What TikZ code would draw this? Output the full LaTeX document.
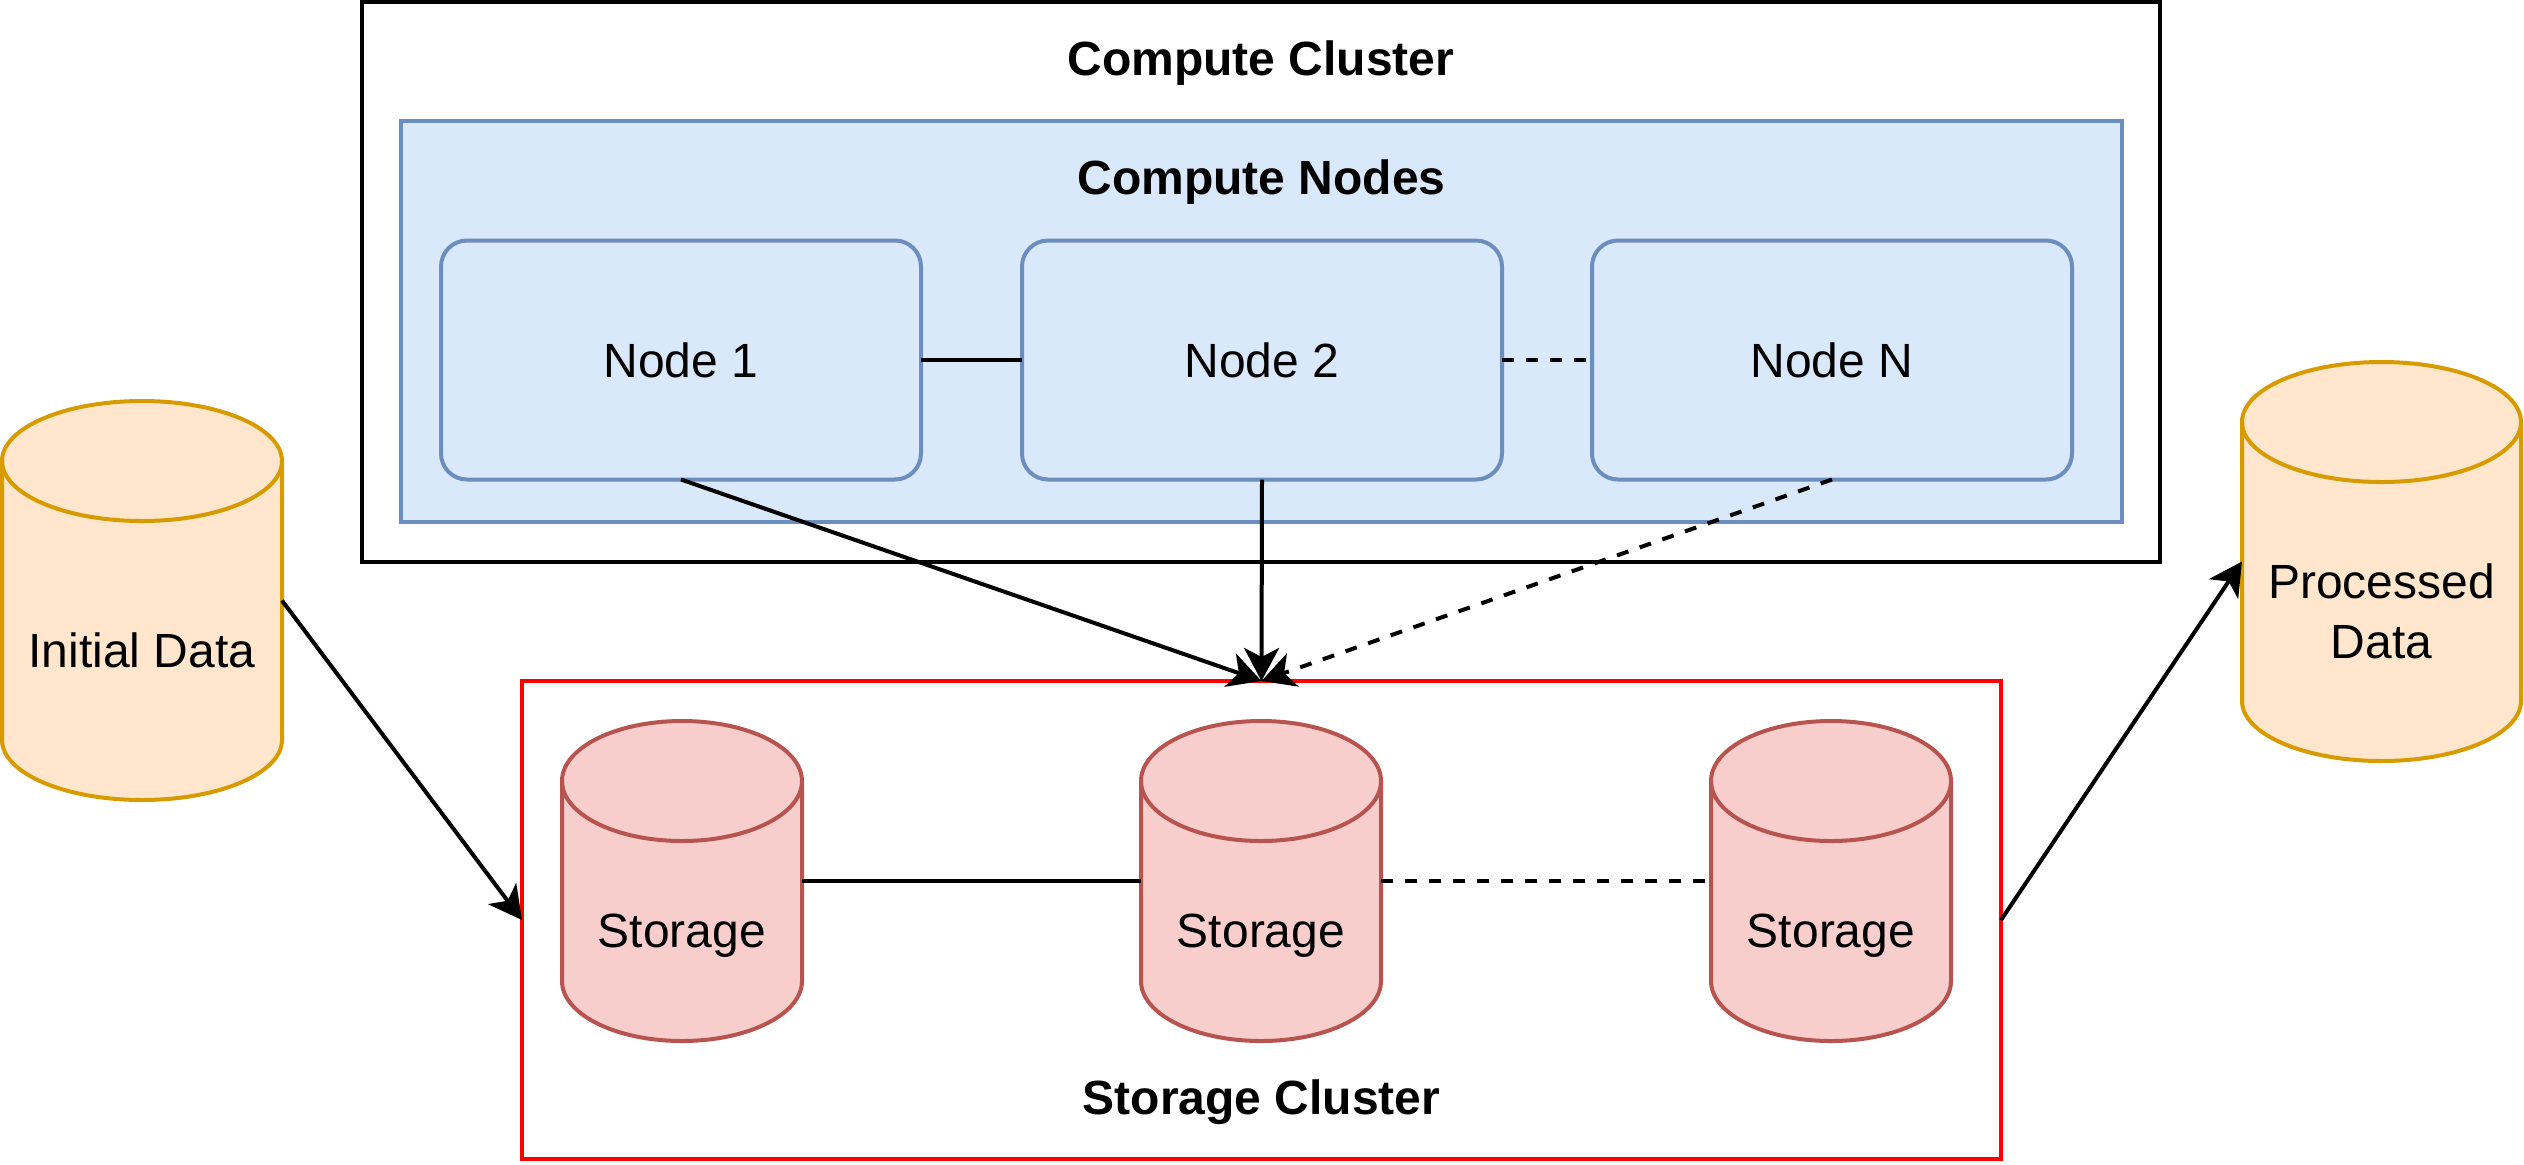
\documentclass[tikz,border=0pt]{standalone}
\usepackage{fontspec}
\setmainfont{Liberation Sans}
\usetikzlibrary{arrows.meta,calc,backgrounds}
\definecolor{NodeFill}{HTML}{DAE8FC}
\definecolor{NodeLine}{HTML}{6C8EBF}
\definecolor{StoreFill}{HTML}{F8CECC}
\definecolor{StoreLine}{HTML}{B85450}
\definecolor{DataFill}{HTML}{FFE6CC}
\definecolor{DataLine}{HTML}{D79B00}
\definecolor{ClusterRed}{HTML}{FF0000}
% cylinder outline behind a named db node: #1 node, #2 half width, #3 colours
\newcommand{\dbshape}[3]{%
  \begin{scope}[on background layer]
    \path[line width=2pt, #3] ($(#1.north west)+(0,-30pt)$) -- ($(#1.south west)+(0,30pt)$)
      arc[start angle=180, end angle=360, x radius=#2, y radius=30pt]
      -- ($(#1.north east)+(0,-30pt)$)
      arc[start angle=0, end angle=180, x radius=#2, y radius=30pt] -- cycle;
    \draw[line width=2pt, #3, fill=none] ($(#1.north west)+(0,-30pt)$)
      arc[start angle=180, end angle=360, x radius=#2, y radius=30pt];
  \end{scope}}

\begin{document}
\begin{tikzpicture}[x=1pt, y=1pt, font=\fontsize{24pt}{30pt}\selectfont,
    cluster/.style={draw, line width=2pt, inner sep=0pt, outer sep=0pt},
    title/.style={font=\fontsize{24pt}{30pt}\selectfont\bfseries},
    worker/.style={draw=NodeLine, fill=NodeFill, line width=2pt, rounded corners=13pt,
      minimum width=240pt, minimum height=119.5pt, outer sep=0pt},
    db/.style={inner sep=0pt, outer sep=0pt},
    dbtext/.style={yshift=-25pt, align=center},
    storetext/.style={yshift=-27.5pt},
    link/.style={line width=2pt},
    dashlink/.style={line width=2pt, dash pattern=on 6pt off 6pt},
    arrow/.style={line width=2pt, -{Stealth[length=16.5pt, width=17.5pt, inset=4.5pt]}}]
    \useasboundingbox (0,0) rectangle (1262,-582);

    % compute side
    \node[cluster, minimum width=899pt, minimum height=280pt] (cc) at (630.5,-141) {};
    \node[title] (cctitle) at (630.5,-31.5) {Compute Cluster};
    \node[cluster, draw=NodeLine, fill=NodeFill, minimum width=860.5pt, minimum height=200.5pt] (pool) at (630.75,-160.75) {};
    \node[title] (pooltitle) at (630.75,-91) {Compute Nodes};

    \node[worker] (n1) at (340.5,-180) {Node 1};
    \node[worker] (n2) at (631,-180) {Node 2};
    \node[worker] (nN) at (916,-180) {Node N};

    % storage side
    \node[cluster, draw=ClusterRed, minimum width=739.5pt, minimum height=239pt] (store) at (630.75,-460) {};
    \node[title] (storetitle) at (630.75,-551) {Storage Cluster};

    \node[db, minimum width=120pt, minimum height=160pt, label={[storetext]center:Storage}] (st1) at (341,-440.5) {};
    \node[db, minimum width=120pt, minimum height=160pt, label={[storetext]center:Storage}] (st2) at (630.5,-440.5) {};
    \node[db, minimum width=120pt, minimum height=160pt, label={[storetext]center:Storage}] (st3) at (915.5,-440.5) {};
    \dbshape{st1}{60pt}{fill=StoreFill, draw=StoreLine}
    \dbshape{st2}{60pt}{fill=StoreFill, draw=StoreLine}
    \dbshape{st3}{60pt}{fill=StoreFill, draw=StoreLine}

    % data in and out
    \node[db, minimum width=140pt, minimum height=199.5pt, label={[dbtext]center:Initial Data}] (init) at (71,-300.25) {};
    \node[db, minimum width=139.5pt, minimum height=199.5pt, label={[dbtext]center:Processed\\Data}] (proc) at (1190.75,-280.75) {};
    \dbshape{init}{70pt}{fill=DataFill, draw=DataLine}
    \dbshape{proc}{69.75pt}{fill=DataFill, draw=DataLine}

    \draw[link] (n1.east) -- (n2.west);
    \draw[dashlink] (n2.east) -- (nN.west);
    \draw[link] (st1.east) -- (st2.west);
    \draw[dashlink] (st2.east) -- (st3.west);

    \draw[arrow] (n1.south) -- (store.north);
    \draw[arrow] (n2.south) -- (store.north);
    \draw[arrow, dash pattern=on 6pt off 6pt] (nN.south) -- (store.north);
    \draw[arrow] (init.east) -- (store.west);
    \draw[arrow] (store.east) -- (proc.west);
\end{tikzpicture}
\end{document}
